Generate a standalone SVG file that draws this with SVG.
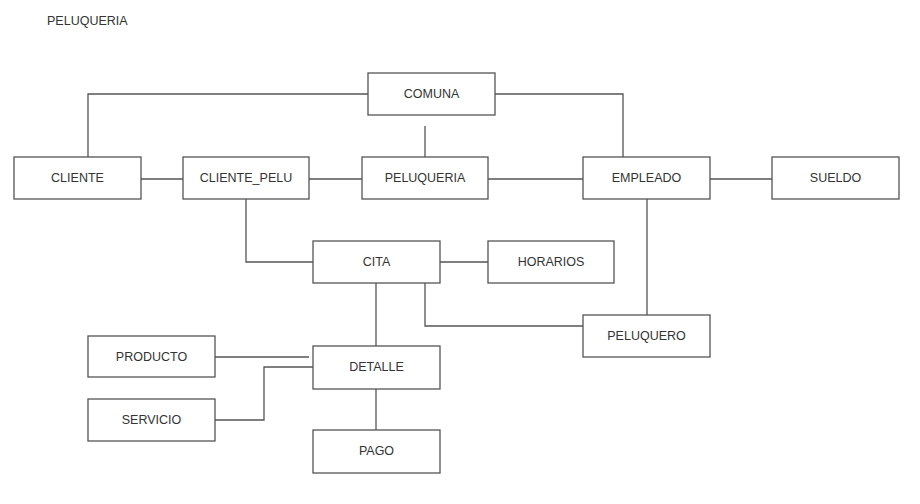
<svg xmlns="http://www.w3.org/2000/svg" width="920" height="504" viewBox="0 0 920 504">
<style>
.box{fill:#fff;stroke:#555;stroke-width:1.3}
.lbl{font-family:"Liberation Sans",Arial,sans-serif;font-size:12.5px;fill:#333;text-anchor:middle;dominant-baseline:central}
.conn{fill:none;stroke:#555;stroke-width:1.3}
</style>
<rect width="920" height="504" fill="#fff"/>
<text x="47" y="21" style="font-family:'Liberation Sans',Arial,sans-serif;font-size:12.5px;fill:#333;dominant-baseline:central">PELUQUERIA</text>
<g id="connectors">
<path class="conn" d="M368 94H88V157"/>
<path class="conn" d="M495 94H623V157"/>
<path class="conn" d="M425 126V157"/>
<path class="conn" d="M141 179H183"/>
<path class="conn" d="M309 179H362"/>
<path class="conn" d="M488 179H583"/>
<path class="conn" d="M710 179H772"/>
<path class="conn" d="M246 199V262H313"/>
<path class="conn" d="M440 262H488"/>
<path class="conn" d="M647 199V315"/>
<path class="conn" d="M425 283V326H583"/>
<path class="conn" d="M376 283V346"/>
<path class="conn" d="M215 357H309"/>
<path class="conn" d="M215 420H264V367H313"/>
<path class="conn" d="M376 389V430"/>
</g>
<g id="comuna"><rect class="box" x="368" y="73" width="127" height="42"/><text class="lbl" x="431.5" y="94">COMUNA</text></g>
<g id="cliente"><rect class="box" x="14" y="157" width="127" height="42"/><text class="lbl" x="77.5" y="178">CLIENTE</text></g>
<g id="cliente_pelu"><rect class="box" x="183" y="157" width="126" height="42"/><text class="lbl" x="246" y="178">CLIENTE_PELU</text></g>
<g id="peluqueria"><rect class="box" x="362" y="157" width="126" height="42"/><text class="lbl" x="425" y="178">PELUQUERIA</text></g>
<g id="empleado"><rect class="box" x="583" y="157" width="127" height="42"/><text class="lbl" x="646.5" y="178">EMPLEADO</text></g>
<g id="sueldo"><rect class="box" x="772" y="157" width="127" height="42"/><text class="lbl" x="835.5" y="178">SUELDO</text></g>
<g id="cita"><rect class="box" x="313" y="241" width="127" height="42"/><text class="lbl" x="376.5" y="262">CITA</text></g>
<g id="horarios"><rect class="box" x="488" y="241" width="126" height="42"/><text class="lbl" x="551" y="262">HORARIOS</text></g>
<g id="peluquero"><rect class="box" x="583" y="315" width="127" height="42"/><text class="lbl" x="646.5" y="336">PELUQUERO</text></g>
<g id="producto"><rect class="box" x="88" y="336" width="127" height="41"/><text class="lbl" x="151.5" y="356.5">PRODUCTO</text></g>
<g id="detalle"><rect class="box" x="313" y="346" width="127" height="43"/><text class="lbl" x="376.5" y="367">DETALLE</text></g>
<g id="servicio"><rect class="box" x="88" y="399" width="127" height="42"/><text class="lbl" x="151.5" y="420">SERVICIO</text></g>
<g id="pago"><rect class="box" x="313" y="430" width="127" height="43"/><text class="lbl" x="376.5" y="451">PAGO</text></g>
</svg>
